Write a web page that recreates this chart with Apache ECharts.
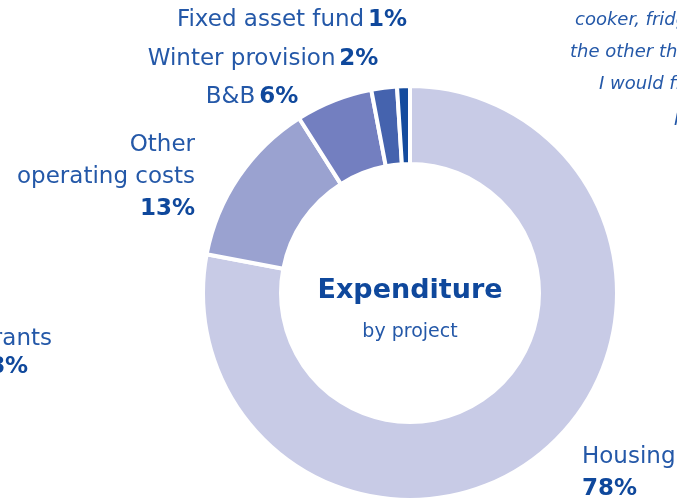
<!DOCTYPE html>
<html>
<head>
<meta charset="utf-8">
<script src="https://cdn.jsdelivr.net/npm/echarts@6/dist/echarts.min.js"></script>
<style>
html,body{margin:0;padding:0;background:#fff;}
#chart{width:677px;height:502px;}
</style>
</head>
<body>
<div id="chart"></div>
<script>
// ---- data ----
const categories = ['Housing', 'Other operating costs', 'B&B', 'Winter provision', 'Fixed asset fund'];
const values = [78, 13, 6, 2, 1];
const labelNames = ['Housing', 'Other\noperating costs', 'B&B', 'Winter provision', 'Fixed asset fund'];
const offChartCategory = 'Grants';
const offChartValue = 8;
const centerTitle = 'Expenditure';
const centerSubtitle = 'by project';
const quoteLines = ['cooker, fridge and', 'the other things', 'I would find', 'It'];

// ---- styles / layout ----
const colors = ['#c8cbe6', '#9aa2d0', '#737fc0', '#4563ae', '#144b9e'];
const textBlue = '#2458a8';
const boldBlue = '#0f489c';
const fontFam = '"DejaVu Sans", Verdana, sans-serif';
const labelLayouts = [
  {x: 582, y: 473, align: 'left', verticalAlign: 'middle'},
  {x: 195, y: 177, align: 'right', verticalAlign: 'middle'},
  {x: 252, y: 97, align: 'center', verticalAlign: 'middle'},
  {x: 263, y: 59, align: 'center', verticalAlign: 'middle'},
  {x: 292, y: 20, align: 'center', verticalAlign: 'middle'}
];
const multiLine = [true, true, false, false, false];

const chart = echarts.init(document.getElementById('chart'), null, {renderer: 'canvas'});
chart.setOption({
  animation: false,
  backgroundColor: '#fff',
  series: [{
    type: 'pie',
    center: [410, 293],
    radius: [129, 207],
    startAngle: 90,
    clockwise: true,
    avoidLabelOverlap: false,
    data: categories.map((c, i) => ({
      name: c,
      value: values[i],
      itemStyle: {color: colors[i]}
    })),
    itemStyle: {borderColor: '#fff', borderWidth: 4},
    label: {
      show: true,
      position: 'outside',
      fontFamily: fontFam,
      formatter: p => {
        const i = p.dataIndex;
        return '{n|' + labelNames[i].split('\n').join('}\n{n|') + '}' +
          (multiLine[i] ? '\n' : ' ') + '{p|' + p.value + '%}';
      },
      rich: {
        n: {fontFamily: fontFam, fontSize: 23, color: textBlue, lineHeight: 32},
        p: {fontFamily: fontFam, fontSize: 23, fontWeight: 'bold', color: boldBlue, lineHeight: 32}
      }
    },
    labelLine: {show: false},
    labelLayout: p => labelLayouts[p.dataIndex],
    emphasis: {disabled: true}
  }],
  graphic: [
    {type: 'text', x: 410, y: 291, style: {text: centerTitle, fontFamily: fontFam, fontSize: 27, fontWeight: 'bold', fill: boldBlue, textAlign: 'center', textVerticalAlign: 'middle'}},
    {type: 'text', x: 410, y: 332, style: {text: centerSubtitle, fontFamily: fontFam, fontSize: 19, fill: textBlue, textAlign: 'center', textVerticalAlign: 'middle'}},
    {type: 'text', x: 52, y: 339, style: {text: offChartCategory, fontFamily: fontFam, fontSize: 23, fill: textBlue, textAlign: 'right', textVerticalAlign: 'middle'}},
    {type: 'text', x: 28, y: 367, style: {text: offChartValue + '%', fontFamily: fontFam, fontSize: 23, fontWeight: 'bold', fill: boldBlue, textAlign: 'right', textVerticalAlign: 'middle'}},
    {type: 'text', x: 575, y: 20, style: {text: quoteLines[0], fontFamily: fontFam, fontSize: 18, fontStyle: 'italic', fill: textBlue, textAlign: 'left', textVerticalAlign: 'middle'}},
    {type: 'text', x: 570, y: 52, style: {text: quoteLines[1], fontFamily: fontFam, fontSize: 18, fontStyle: 'italic', fill: textBlue, textAlign: 'left', textVerticalAlign: 'middle'}},
    {type: 'text', x: 599, y: 84, style: {text: quoteLines[2], fontFamily: fontFam, fontSize: 18, fontStyle: 'italic', fill: textBlue, textAlign: 'left', textVerticalAlign: 'middle'}},
    {type: 'text', x: 674, y: 120, style: {text: quoteLines[3], fontFamily: fontFam, fontSize: 18, fontStyle: 'italic', fill: textBlue, textAlign: 'left', textVerticalAlign: 'middle'}}
  ]
});
</script>
</body>
</html>
